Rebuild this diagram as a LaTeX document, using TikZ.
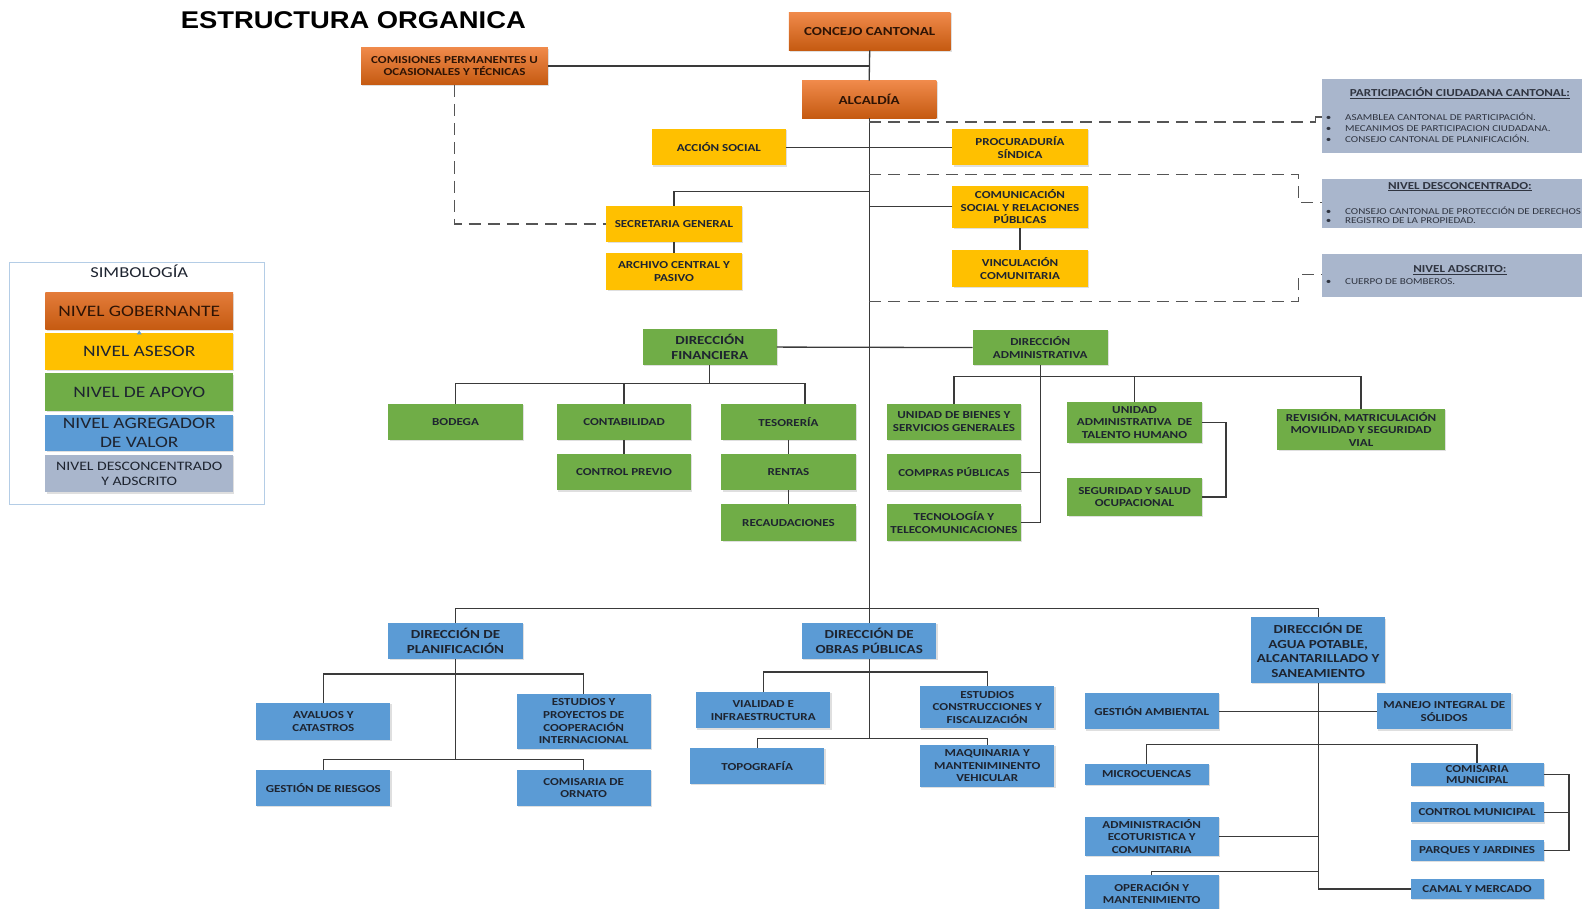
\documentclass[tikz,border=0pt]{standalone}
\usepackage{fontspec}
\usetikzlibrary{shadows}
\newfontfamily\bxf{Carlito}[FakeStretch=1.22]
\newfontfamily\ttlf{Liberation Sans}[FakeStretch=1.13]
\definecolor{orL}{HTML}{F08A4B}
\definecolor{orD}{HTML}{C55A11}
\definecolor{yel}{HTML}{FFC000}
\definecolor{grn}{HTML}{70AD47}
\definecolor{blu}{HTML}{5B9BD5}
\definecolor{gry}{HTML}{A9B6CC}
\definecolor{txt}{HTML}{1E2430}
\definecolor{govt}{HTML}{2E1405}
\definecolor{ln}{HTML}{3A3A3A}
\definecolor{dln}{HTML}{555555}
\definecolor{lgb}{HTML}{B4CDE6}
\definecolor{ptx}{HTML}{2F3440}
\newcommand\ubox[7]{\node[#6, minimum width={(#4-#2)*1pt}, minimum height={(#5-#3)*1pt}] (#1) at ({(#2+#4)/2},{(#3+#5)/2}) {#7};}
\begin{document}
\begin{tikzpicture}[x=1pt,y=-1pt,
  bx/.style={inner sep=0.5pt, outer sep=0pt, align=center, text=txt,
    font=\bxf\bfseries\fontsize{10.6}{12.5}\selectfont,
    drop shadow={shadow xshift=1.2pt, shadow yshift=-1.2pt, opacity=0.25}},
  big/.style={font=\bxf\bfseries\fontsize{12.2}{14.6}\selectfont},
  gov/.style={bx, top color=orL, bottom color=orD, text=govt},
  ase/.style={bx, fill=yel},
  apo/.style={bx, fill=grn},
  agr/.style={bx, fill=blu},
  lg/.style={bx, font=\bxf\fontsize{15.8}{19}\selectfont},
  lgs/.style={bx, font=\bxf\fontsize{12.8}{15.5}\selectfont},
  pbox/.style={fill=gry, outer sep=0pt, inner sep=0pt},
  ptitle/.style={inner sep=0pt, text=ptx, font=\bxf\bfseries\fontsize{10.6}{12}\selectfont},
  pitem/.style={inner sep=0pt, anchor=west, text=ptx, font=\bxf\fontsize{9}{10}\selectfont},
  cn/.style={draw=ln, line width=1.3pt},
  dsh/.style={draw=dln, line width=1.2pt, dash pattern=on 12pt off 7pt},
  brk/.style={draw=dln, line width=1.2pt}
]
\useasboundingbox (0,0) rectangle (1568,900);

% title
\node[anchor=west, inner sep=0pt, font=\ttlf\bfseries\fontsize{24}{26}\selectfont] (title) at (179,20) {ESTRUCTURA ORGANICA};

% legend
\node[draw=lgb, line width=0.8pt, fill=white, minimum width=253pt, minimum height=240pt, inner sep=0pt] (leg) at (135.5,380) {};
\node[inner sep=0pt, text=txt, font=\bxf\fontsize{15}{17}\selectfont] (simb) at (138,269) {SIMBOLOGÍA};
\ubox{lg1}{45}{290}{231}{327}{lg, top color=orL!70!orD, bottom color=orD, text=govt}{NIVEL GOBERNANTE}
\ubox{lg2}{45}{330}{231}{367}{lg, fill=yel}{NIVEL ASESOR}
\ubox{lg3}{45}{370}{231}{407}{lg, fill=grn}{NIVEL DE APOYO}
\ubox{lg4}{45}{411}{231}{447}{lg, fill=blu}{NIVEL AGREGADOR\\DE VALOR}
\ubox{lg5}{45}{451}{231}{488}{lgs, fill=gry}{NIVEL DESCONCENTRADO\\Y ADSCRITO}
\fill[blu] (135.5,331.5) -- (140.5,331.5) -- (138,327.5) -- cycle;

% governing level
\ubox{concejo}{782}{12}{942}{50}{gov,big}{CONCEJO CANTONAL}
\ubox{comisiones}{358}{47}{543}{84}{gov}{COMISIONES PERMANENTES U\\OCASIONALES Y TÉCNICAS}
\ubox{alcaldia}{795}{80}{928}{117}{gov,big}{ALCALDÍA}

% advisory level
\ubox{accion}{646}{128}{779}{164}{ase}{ACCIÓN SOCIAL}
\ubox{procuraduria}{944}{128}{1078}{164}{ase}{PROCURADURÍA\\SÍNDICA}
\ubox{secretaria}{601}{204}{735}{240}{ase}{SECRETARIA GENERAL}
\ubox{archivo}{601}{251}{735}{287}{ase}{ARCHIVO CENTRAL Y\\PASIVO}
\ubox{comunicacion}{944}{184}{1078}{226}{ase}{COMUNICACIÓN\\SOCIAL Y RELACIONES\\PÚBLICAS}
\ubox{vinculacion}{944}{248}{1078}{284}{ase}{VINCULACIÓN\\COMUNITARIA}

% participation boxes
\ubox{pc}{1310}{78}{1590}{152}{pbox}{}
\ubox{pd}{1310}{177}{1590}{226}{pbox}{}
\ubox{pa}{1310}{252}{1590}{294}{pbox}{}
\node[ptitle] (pct) at (1447,92) {\underline{PARTICIPACIÓN CIUDADANA CANTONAL:}};
\node[pitem] (pc1) at (1314,116) {\makebox[19pt][l]{\textbullet}ASAMBLEA CANTONAL DE PARTICIPACIÓN.};
\node[pitem] (pc2) at (1314,127) {\makebox[19pt][l]{\textbullet}MECANIMOS DE PARTICIPACION CIUDADANA.};
\node[pitem] (pc3) at (1314,138) {\makebox[19pt][l]{\textbullet}CONSEJO CANTONAL DE PLANIFICACIÓN.};
\node[ptitle] (pdt) at (1447,185) {\underline{NIVEL DESCONCENTRADO:}};
\node[pitem] (pd1) at (1314,209) {\makebox[19pt][l]{\textbullet}CONSEJO CANTONAL DE PROTECCIÓN DE DERECHOS};
\node[pitem] (pd2) at (1314,219) {\makebox[19pt][l]{\textbullet}REGISTRO DE LA PROPIEDAD.};
\node[ptitle] (pat) at (1447,268) {\underline{NIVEL ADSCRITO:}};
\node[pitem] (pa1) at (1314,279) {\makebox[19pt][l]{\textbullet}CUERPO DE BOMBEROS.};

% support level
\ubox{financiera}{637}{326}{770}{362}{apo,big}{DIRECCIÓN\\FINANCIERA}
\ubox{administrativa}{964}{327}{1098}{362}{apo}{DIRECCIÓN\\ADMINISTRATIVA}
\ubox{bodega}{385}{400}{518}{436}{apo}{BODEGA}
\ubox{contabilidad}{552}{400}{685}{436}{apo}{CONTABILIDAD}
\ubox{tesoreria}{715}{400}{848}{436}{apo}{TESORERÍA}
\ubox{controlprevio}{552}{450}{685}{486}{apo}{CONTROL PREVIO}
\ubox{rentas}{715}{450}{848}{486}{apo}{RENTAS}
\ubox{recaudaciones}{715}{500}{848}{536}{apo}{RECAUDACIONES}
\ubox{bienes}{879}{400}{1012}{436}{apo}{UNIDAD DE BIENES Y\\SERVICIOS GENERALES}
\ubox{compras}{879}{450}{1012}{486}{apo}{COMPRAS PÚBLICAS}
\ubox{tecnologia}{879}{500}{1012}{536}{apo}{TECNOLOGÍA Y\\TELECOMUNICACIONES}
\ubox{talento}{1058}{398}{1191}{439}{apo}{UNIDAD\\ADMINISTRATIVA~ DE\\TALENTO HUMANO}
\ubox{seguridad}{1058}{474}{1191}{511}{apo}{SEGURIDAD Y SALUD\\OCUPACIONAL}
\ubox{revision}{1266}{405}{1432}{446}{apo}{REVISIÓN, MATRICULACIÓN\\MOVILIDAD Y SEGURIDAD\\VIAL}

% value-adding level
\ubox{planificacion}{385}{617}{518}{653}{agr,big}{DIRECCIÓN DE\\PLANIFICACIÓN}
\ubox{obras}{795}{617}{928}{653}{agr,big}{DIRECCIÓN DE\\OBRAS PÚBLICAS}
\ubox{agua}{1240}{612}{1373}{677}{agr,big}{DIRECCIÓN DE\\AGUA POTABLE,\\ALCANTARILLADO Y\\SANEAMIENTO}
\ubox{avaluos}{254}{697}{387}{733}{agr}{AVALUOS Y\\CATASTROS}
\ubox{estudiosp}{512}{688}{645}{742}{agr}{ESTUDIOS Y\\PROYECTOS DE\\COOPERACIÓN\\INTERNACIONAL}
\ubox{riesgos}{254}{763}{387}{799}{agr}{GESTIÓN DE RIESGOS}
\ubox{ornato}{512}{763}{645}{799}{agr}{COMISARIA DE\\ORNATO}
\ubox{vialidad}{690}{686}{823}{722}{agr}{VIALIDAD E\\INFRAESTRUCTURA}
\ubox{estudiosc}{912}{680}{1045}{722}{agr}{ESTUDIOS\\CONSTRUCCIONES Y\\FISCALIZACIÓN}
\ubox{topografia}{684}{741}{817}{777}{agr}{TOPOGRAFÍA}
\ubox{maquinaria}{912}{738}{1045}{780}{agr}{MAQUINARIA Y\\MANTENIMINENTO\\VEHICULAR}
\ubox{gestion}{1075}{687}{1208}{723}{agr}{GESTIÓN AMBIENTAL}
\ubox{manejo}{1365}{687}{1498}{723}{agr}{MANEJO INTEGRAL DE\\SÓLIDOS}
\ubox{microcuencas}{1075}{757}{1198}{778}{agr}{MICROCUENCAS}
\ubox{comisaria}{1398}{756}{1530}{779}{agr,font=\bxf\bfseries\fontsize{10.6}{11.5}\selectfont}{COMISARIA\\MUNICIPAL}
\ubox{control}{1398}{795}{1530}{815}{agr}{CONTROL MUNICIPAL}
\ubox{parques}{1398}{833}{1530}{853}{agr}{PARQUES Y JARDINES}
\ubox{ecoturistica}{1075}{810}{1208}{848}{agr}{ADMINISTRACIÓN\\ECOTURISTICA Y\\COMUNITARIA}
\ubox{operacion}{1075}{867}{1208}{903}{agr}{OPERACIÓN Y\\MANTENIMIENTO}
\ubox{camal}{1398}{871}{1530}{891}{agr}{CAMAL Y MERCADO}

% helper coordinates
\coordinate (bus) at (alcaldia.south |- 0,603);
\coordinate (sgj) at (alcaldia.south |- 0,190);
\coordinate (fbus) at (financiera.south |- 0,380);
\coordinate (tesin) at (798,400);
\coordinate (abus) at (administrativa.south |- 0,373);
\coordinate (pbus1) at (planificacion.south |- 0,668);
\coordinate (pbus2) at (planificacion.south |- 0,753);
\coordinate (obus1) at (obras.south |- 0,666);
\coordinate (obus2) at (obras.south |- 0,732);
\coordinate (abus1) at (agua.south |- 0,738);
\coordinate (abus2) at (agua.south |- 0,864);

% solid connectors
\draw[cn] (concejo.south) -- (alcaldia.north);
\draw[cn] (comisiones.east) -- (comisiones.east -| concejo.south);
\draw[cn] (alcaldia.south) -- (bus);
\draw[cn] (accion.east) -- (procuraduria.west);
\draw[cn] (sgj) -| (secretaria.north);
\draw[cn] (secretaria.south) -- (archivo.north);
\draw[cn] (comunicacion.west) -- (comunicacion.west -| alcaldia.south);
\draw[cn] (comunicacion.south) -- (vinculacion.north);
\draw[cn] (financiera.east) -- (administrativa.west);
\draw[cn] (financiera.south) -- (fbus);
\draw[cn] (bodega.north) |- (fbus) -| (tesin);
\draw[cn] (contabilidad.north) -- (contabilidad.north |- fbus);
\draw[cn] (contabilidad.south) -- (controlprevio.north);
\draw[cn] (tesoreria.south) -- (rentas.north);
\draw[cn] (rentas.south) -- (recaudaciones.north);
\draw[cn] (administrativa.south) -- (administrativa.south |- tecnologia.east);
\draw[cn] (bienes.north) |- (abus) -| (revision.north);
\draw[cn] (talento.north) -- (talento.north |- abus);
\draw[cn] (compras.east) -- (compras.east -| administrativa.south);
\draw[cn] (tecnologia.east) -- (tecnologia.east -| administrativa.south);
\draw[cn] (talento.east) -- ++(24,0) |- (seguridad.east);
\draw[cn] (planificacion.north) |- (bus) -| (agua.north);
\draw[cn] (bus) -- (obras.north);
\draw[cn] (planificacion.south) -- (pbus2);
\draw[cn] (avaluos.north) |- (pbus1) -| (estudiosp.north);
\draw[cn] (riesgos.north) |- (pbus2) -| (ornato.north);
\draw[cn] (obras.south) -- (obus2);
\draw[cn] (vialidad.north) |- (obus1) -| (estudiosc.north);
\draw[cn] (topografia.north) |- (obus2) -| (maquinaria.north);
\draw[cn] (agua.south) |- (camal.west);
\draw[cn] (gestion.east) -- (manejo.west);
\draw[cn] (microcuencas.north) |- (abus1) -| (comisaria.north);
\draw[cn] (ecoturistica.east) -- (ecoturistica.east -| agua.south);
\draw[cn] (operacion.north) |- (abus2);
\draw[cn] (comisaria.east) -- ++(25,0) |- (parques.east);
\draw[cn] (control.east) -- ++(25,0);

% dashed connectors
\draw[dsh] (comisiones.south) |- (secretaria.west);
\draw[dsh] (alcaldia.south |- 0,121) -- (1299,121);
\draw[brk] (1299,121) -- (1304,121) -- (1304,116) -- (pc.west |- 0,116);
\draw[dsh] (alcaldia.south |- 0,173) -- (1287,173) -- (1287,201) -- (pd.west |- 0,201);
\draw[dsh] (alcaldia.south |- 0,299) -- (1287,299) -- (1287,272) -- (pa.west |- 0,272);
\end{tikzpicture}
\end{document}
